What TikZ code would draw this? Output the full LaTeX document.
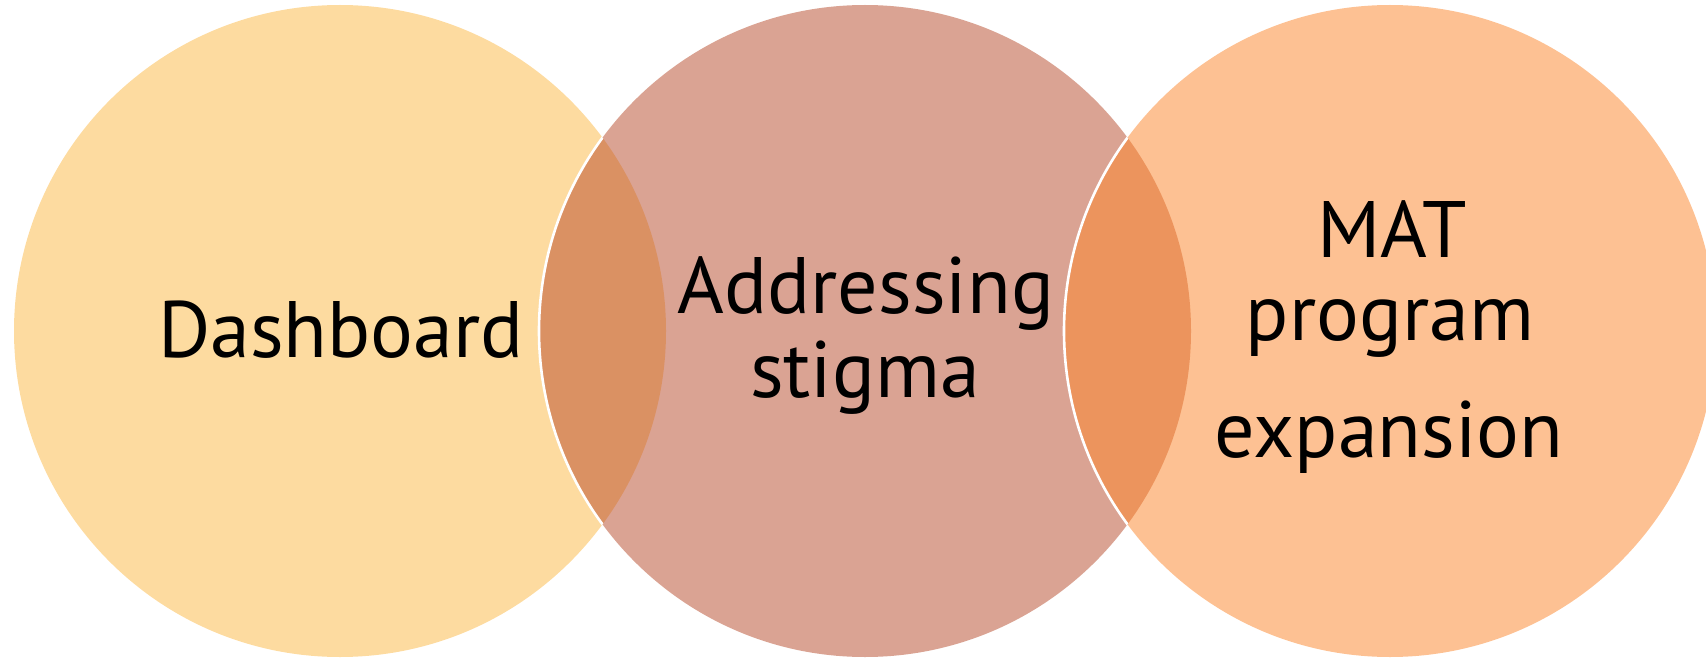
\documentclass[tikz,border=0pt]{standalone}
\usepackage{fontspec}
\setmainfont{PT Sans}
\definecolor{cleft}{HTML}{FDDBA0}
\definecolor{cmid}{HTML}{DAA393}
\definecolor{cright}{HTML}{FDC193}
\definecolor{lensA}{HTML}{DA9163}
\definecolor{lensB}{HTML}{EC945D}
\tikzset{
  lbl/.style={anchor=base, inner sep=0pt, font=\fontsize{80}{84}\selectfont, text=black},
  rim/.style={draw=white, line width=2.6pt}
}
\begin{document}
\begin{tikzpicture}[x=1pt,y=-1pt]
\useasboundingbox (0,0) rectangle (1706,658);
\clip (0,0) rectangle (1706,658);
\coordinate (cL) at (340,331);
\coordinate (cM) at (865,331);
\coordinate (cR) at (1390,331);
\fill[cleft] (cL) circle[radius=326];
\fill[cmid] (cM) circle[radius=326];
\fill[cright] (cR) circle[radius=326];
\begin{scope}
  \clip (cL) circle[radius=326];
  \fill[lensA] (cM) circle[radius=326];
  \draw[rim] (cM) circle[radius=326];
\end{scope}
\begin{scope}
  \clip (cM) circle[radius=326];
  \fill[lensB] (cR) circle[radius=326];
  \draw[rim] (cR) circle[radius=326];
\end{scope}
\node[lbl] (d1) at (341,357) {Dashboard};
\node[lbl] (a1) at (866,313) {Addressing};
\node[lbl] (a2) at (865,397) {stigma};
\node[lbl] (m1) at (1392,257) {MAT};
\node[lbl] (m2) at (1390,340) {program};
\node[lbl] (m3) at (1389,457) {expansion};
\end{tikzpicture}
\end{document}
